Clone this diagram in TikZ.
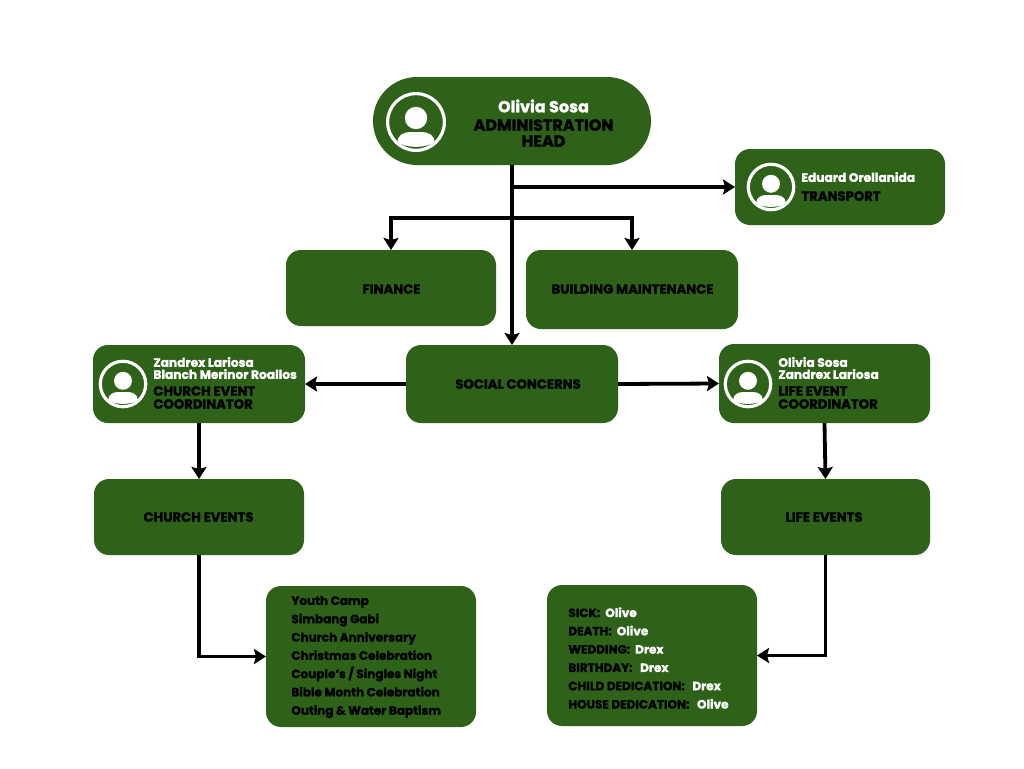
\documentclass[tikz,border=0pt]{standalone}
\usepackage{fontspec}
\setmainfont{Poppins}[BoldFeatures={FakeBold=1.6}]
\usepackage{tikz}
\usetikzlibrary{arrows.meta}

\definecolor{boxgreen}{RGB}{45,98,24}

\tikzset{
	usericon/.pic={
		\draw [white,line width=3.2pt] (0,0) circle (28.4);
		\fill [white] (0,-4) circle (11.2);
		\fill [white] (-18.5,20) .. controls (-18.5,13) and (-12,10) .. (-6,10) -- (6,10)
		.. controls (12,10) and (18.5,13) .. (18.5,20) .. controls (10,26.5) and (-10,26.5) .. (-18.5,20) -- cycle;
	}
}

\begin{document}
\begin{tikzpicture}[x=1pt,y=-1pt,->,>={Stealth[length=12pt,width=15pt,inset=2pt]},line width=3.8pt]
	
	\tikzstyle{box}=[fill=boxgreen,draw=none,rounded corners=15pt,inner sep=0pt,outer sep=0pt]
	\tikzstyle{title}=[font=\fontsize{13.2}{14}\selectfont\bfseries,text=black,inner sep=0pt]
	\tikzstyle{who}=[font=\fontsize{12.2}{12}\selectfont\bfseries,align=left,anchor=west,inner sep=0pt]
	\tikzstyle{job}=[font=\fontsize{13.2}{13}\selectfont\bfseries,align=left,anchor=west,inner sep=0pt]
	\tikzstyle{lines}=[font=\fontsize{12}{18.3}\selectfont\bfseries,align=left,anchor=west,inner sep=0pt]
	
	\useasboundingbox (0,0) rectangle (1024,768);
	
	\node [box,rounded corners=44pt,minimum width=278pt,minimum height=88pt] (head) at (512,121) {};
	\node [box,minimum width=210pt,minimum height=76pt] (transport) at (840,187) {};
	\node [box,minimum width=210pt,minimum height=76pt] (finance) at (391,288) {};
	\node [box,minimum width=212pt,minimum height=79pt] (building) at (632,289.5) {};
	\node [box,minimum width=212pt,minimum height=78pt] (social) at (512,384) {};
	\node [box,minimum width=212pt,minimum height=78pt] (churchco) at (199,384) {};
	\node [box,minimum width=211pt,minimum height=79pt] (lifeco) at (824.5,383.5) {};
	\node [box,minimum width=210pt,minimum height=76pt] (churchev) at (199,517) {};
	\node [box,minimum width=209pt,minimum height=76pt] (lifeev) at (825.5,517) {};
	\node [box,minimum width=210pt,minimum height=141pt] (youth) at (371,656.5) {};
	\node [box,minimum width=210pt,minimum height=141pt] (sick) at (652,655.5) {};
	
	\pic [scale=1] (headicon) at (416,122) {usericon};
	\pic [scale=0.8] (transporticon) at (771,187) {usericon};
	\pic [scale=0.8] (churchicon) at (123,384) {usericon};
	\pic [scale=0.8] (lifeicon) at (748,384) {usericon};
	
	\node [title,font=\fontsize{16}{16}\selectfont\bfseries,text=white] (headname) at (543.5,106) {Olivia Sosa};
	\node [title,font=\fontsize{16}{16}\selectfont\bfseries,align=center] (headjob) at (543.5,133) {ADMINISTRATION\\HEAD};
	
	\node [who,text=white] (transportname) at (799.5,177) {Eduard Orellanida};
	\node [job] (transportjob) at (799.5,196) {TRANSPORT};
	
	\node [title] (financename) at (391.5,289) {FINANCE};
	\node [title] (buildingname) at (632.5,289) {BUILDING MAINTENANCE};
	\node [title] (socialname) at (518,384) {SOCIAL CONCERNS};
	\node [title] (churchevname) at (198.5,517) {CHURCH EVENTS};
	\node [title] (lifeevname) at (824,517) {LIFE EVENTS};
	
	\node [who,text=white] (churchname) at (151.5,368) {Zandrex Lariosa\\Blanch Merinor Roallos};
	\node [job] (churchjob) at (151.5,397.5) {CHURCH EVENT\\COORDINATOR};
	\node [who,text=white] (lifename) at (776.5,368) {Olivia Sosa\\Zandrex Lariosa};
	\node [job] (lifejob) at (776.5,397.5) {LIFE EVENT\\COORDINATOR};
	
	\node [lines] (youthlist) at (289.5,657) {Youth Camp\\Simbang Gabi\\Church Anniversary\\Christmas Celebration\\Couple`s / Singles Night\\Bible Month Celebration\\Outing \& Water Baptism};
	\node [lines] (sicklist) at (566.5,658) {SICK:\ \ \textcolor{white}{Olive}\\DEATH:\ \ \textcolor{white}{Olive}\\WEDDING:\ \ \textcolor{white}{Drex}\\BIRTHDAY:\ \ \ \textcolor{white}{Drex}\\CHILD DEDICATION:\ \ \ \textcolor{white}{Drex}\\HOUSE DEDICATION:\ \ \ \textcolor{white}{Olive}};
	
	\coordinate (tobranch) at (512,187);
	\coordinate (fork) at (512,218);
	
	\draw (head.south) -- (social.north);
	\draw (tobranch) -- (transport.west);
	\draw (fork) -| (finance.north);
	\draw (fork) -| (building.north);
	\draw (social.west) -- (churchco.east);
	\draw (social.east) -- (lifeco.west);
	\draw (churchco.south) -- (churchev.north);
	\draw (lifeco.south) -- (lifeev.north);
	\draw (churchev.south) |- (youth.west);
	\draw (lifeev.south) |- (sick.east);
\end{tikzpicture}
\end{document}
